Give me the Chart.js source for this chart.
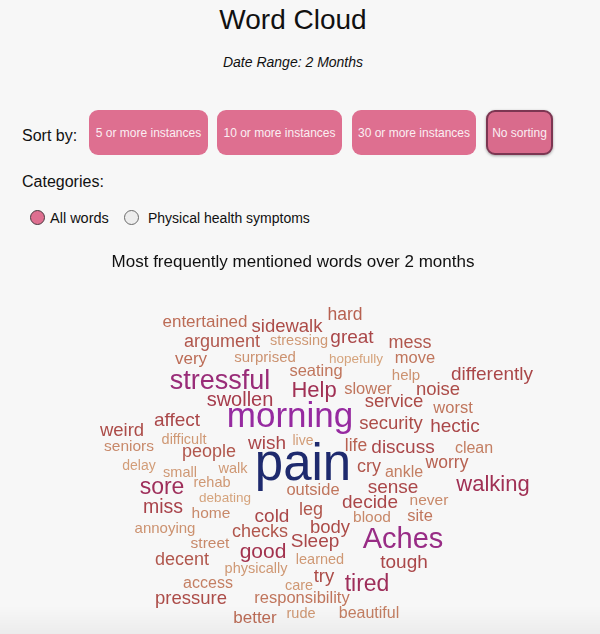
<!DOCTYPE html>
<html>
<head>
<meta charset="utf-8">
<script src="https://cdn.jsdelivr.net/npm/chart.js@4"></script>
<style>
  html, body { margin:0; padding:0; }
  body { width:600px; height:634px; background:#f7f7f7; position:relative; overflow:hidden;
         font-family:"Liberation Sans", Arial, Helvetica, sans-serif; color:#1a1a1a; }
  .abs { position:absolute; line-height:1; white-space:nowrap; }
  #title { left:0; width:586px; text-align:center; top:6px; font-size:28px; color:#111; }
  #range { left:0; width:586px; text-align:center; top:55px; font-size:14px; font-style:italic; color:#111; }
  .lbl { font-size:16px; color:#111; }
  .btn { position:absolute; top:110px; height:45px; border-radius:9px; background:#de6f90;
         color:#fbeef2; font-size:12px; display:flex; align-items:center; justify-content:center;
         box-sizing:border-box; white-space:nowrap; }
  .btn.active { border:2px solid #7c3652; background:#d96b8c; box-shadow:0 1px 3px rgba(0,0,0,0.35); }
  .radio { position:absolute; width:15px; height:15px; border-radius:50%; box-sizing:border-box; top:210px; }
  #cloud { position:absolute; left:0; top:240px; }
  #shade { position:absolute; left:0; top:606px; width:600px; height:28px;
           background:linear-gradient(to bottom, rgba(0,0,0,0), rgba(0,0,0,0.045)); pointer-events:none; }
</style>
</head>
<body>
<div id="title" class="abs">Word Cloud</div>
<div id="range" class="abs">Date Range: 2 Months</div>

<div class="abs lbl" style="left:22px; top:127.5px;">Sort by:</div>
<div class="btn" style="left:89px; width:119px;">5 or more instances</div>
<div class="btn" style="left:217px; width:125px;">10 or more instances</div>
<div class="btn" style="left:352px; width:124px;">30 or more instances</div>
<div class="btn active" style="left:486px; width:67px;">No sorting</div>

<div class="abs lbl" style="left:22px; top:174px;">Categories:</div>
<div class="radio" style="left:30px; background:#de6f90; border:1px solid #4a3a40;"></div>
<div class="abs" style="left:50px; top:211px; font-size:14.5px; color:#111;">All words</div>
<div class="radio" style="left:124px; background:#ededed; border:1px solid #6a6a6a;"></div>
<div class="abs" style="left:148px; top:211px; font-size:14px; color:#111;">Physical health symptoms</div>

<canvas id="cloud" width="586" height="394"></canvas>
<div id="shade"></div>

<script>
// ---- data ----
const chartTitle = "Most frequently mentioned words over 2 months";
const words = ["hard","entertained","sidewalk","argument","stressing","great","mess","very","surprised","hopefully",
  "move","seating","help","differently","stressful","Help","slower","noise","swollen","service",
  "worst","morning","affect","security","hectic","weird","difficult","seniors","wish","live",
  "life","discuss","clean","people","delay","small","walk","pain","cry","ankle",
  "worry","rehab","sore","outside","sense","walking","debating","miss","leg","decide",
  "never","home","cold","blood","site","annoying","checks","body","street","Sleep",
  "Aches","good","decent","learned","tough","physically","try","tired","access","care",
  "pressure","responsibility","better","rude","beautiful"];
const counts = [15,14,17,16,9,18,16,14,10,7,
  13,13,10,18,34,24,13,17,20,17,
  13,50,18,17,18,17,9,11,18,8,
  15,18,12,16,8,9,9,82,16,12,
  15,9,26,13,18,24,7,19,16,18,
  11,11,18,11,13,10,16,17,11,18,
  38,22,16,9,18,9,17,26,12,9,
  17,13,14,9,12];
// layout position of each word in the cloud (centre-anchored, baseline)
const cloudX = [45,-95,-13,-78,-1,52,110,-109,-35,56,
  115,16,106,192,-80,14,68,138,-60,94,
  153,-10,-123,91,155,-178,-116,-171,-33,3,
  56,103,174,-91,-161,-120,-67,3,69,104,
  147,-88,-138,13,93,193,-75,-137,11,70,
  129,-89,-28,72,120,-135,-40,30,-90,15,
  103,-37,-118,20,104,-44,24,67,-92,-1,
  -109,2,-45,1,69];
const cloudY = [138,131,126,111,113,115,110,94,96,95,
  95,82,78,78,69,61,64,63,52,51,
  45,31,32,29,26,22,14,7,9,13,
  7,5,5,1,-12,-19,-15,-22,-14,-19,
  -10,-29,-36,-37,-35,-33,-44,-55,-57,-50,
  -47,-60,-64,-64,-63,-75,-79,-75,-90,-89,
  -90,-100,-107,-106,-110,-115,-124,-133,-130,-132,
  -146,-145,-165,-160,-160];

// ---- mappings ----
const FONT = "'Liberation Sans', Arial, Helvetica, sans-serif";
function fontSize(c){ return 10 + c * 0.5; }
const colorStops = [
  [13, [216,168,128]],
  [15, [204,146,112]],
  [17, [188,108,86]],
  [18.5,[172,76,72]],
  [21, [162,50,78]],
  [24, [156,44,96]],
  [28, [152,44,128]],
  [35, [150,42,160]],
  [51, [30,42,110]]
];
function colorFor(fs){
  if (fs <= colorStops[0][0]) return 'rgb(' + colorStops[0][1].join(',') + ')';
  for (let i = 1; i < colorStops.length; i++){
    if (fs <= colorStops[i][0]){
      const [a, ca] = colorStops[i-1], [b, cb] = colorStops[i];
      const t = (fs - a) / (b - a);
      const c = ca.map((v, k) => Math.round(v + (cb[k] - v) * t));
      return 'rgb(' + c.join(',') + ')';
    }
  }
  return 'rgb(' + colorStops[colorStops.length-1][1].join(',') + ')';
}

const wordPlugin = {
  id: 'wordText',
  afterDatasetsDraw(chart){
    const ctx = chart.ctx;
    const meta = chart.getDatasetMeta(0);
    ctx.save();
    ctx.textAlign = 'center';
    ctx.textBaseline = 'alphabetic';
    meta.data.forEach((pt, i) => {
      const fs = fontSize(counts[i]);
      ctx.font = fs + 'px ' + FONT;
      ctx.fillStyle = colorFor(fs);
      ctx.fillText(words[i], pt.x, pt.y);
    });
    ctx.restore();
  }
};

Chart.defaults.font.family = FONT;
new Chart(document.getElementById('cloud'), {
  type: 'scatter',
  data: {
    datasets: [{
      label: 'words',
      data: words.map((w, i) => ({ x: cloudX[i], y: cloudY[i] })),
      pointRadius: 0,
      pointHoverRadius: 0
    }]
  },
  options: {
    responsive: false,
    animation: false,
    devicePixelRatio: 1,
    layout: { padding: 0, autoPadding: false },
    events: [],
    plugins: {
      legend: { display: false },
      tooltip: { enabled: false },
      title: {
        display: true,
        text: chartTitle,
        color: '#111',
        font: { size: 17, weight: 'normal', family: FONT },
        padding: { top: 12, bottom: 10 }
      }
    },
    scales: {
      x: { type: 'linear', min: -300, max: 286, display: false },
      y: { type: 'linear', min: -176, max: 175.6, display: false }
    }
  },
  plugins: [wordPlugin]
});
</script>
</body>
</html>
